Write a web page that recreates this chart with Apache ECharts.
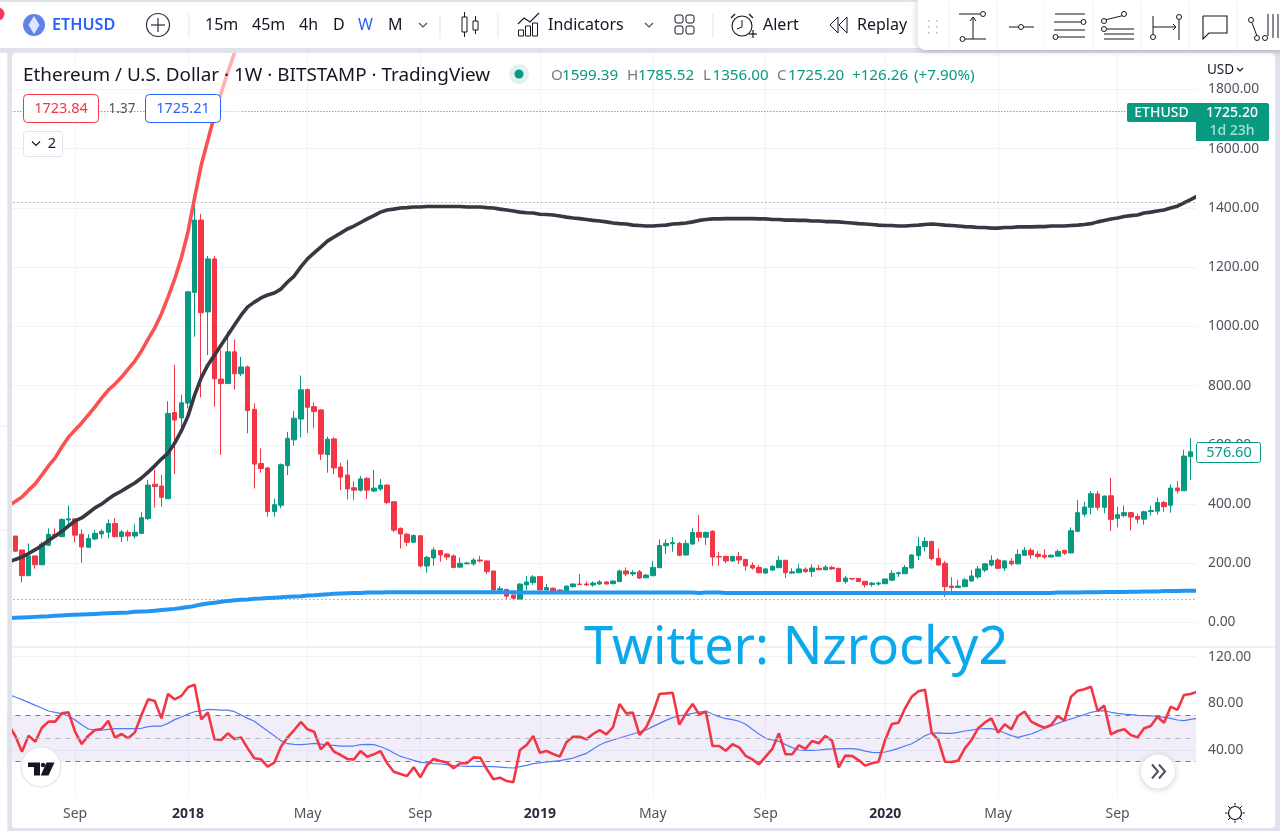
<!DOCTYPE html>
<html><head><meta charset="utf-8">
<style>html,body{margin:0;padding:0;background:#e0e3eb;overflow:hidden}#c{width:1280px;height:831px}</style>
<script src="https://cdn.jsdelivr.net/npm/echarts@6/dist/echarts.min.js"></script>
</head><body><div id="c"></div>
<script>
const priceTicks = {max:2000, min:-200, step:200};
const rsiTicks = {max:120, min:0, step:40};
// category index (bar + 1) -> time label
const timeTicks = {10:'Sep',27:'2018',45:'May',62:'Sep',80:'2019',97:'May',114:'Sep',132:'2020',149:'May',167:'Sep'};

const opens = [292,245,158,225,195,261,298,290,346,350,
298,254,282,299,305,334,290,304,292,301,
351,467,461,418,709,691,741,1115,1359,1049,
1228,822,807,914,840,863,720,537,522,375,
396,530,617,687,787,729,718,567,620,525,
498,455,447,487,444,451,464,408,318,298,
271,293,191,218,243,231,225,187,198,198,
211,208,174,110,112,93,79,127,135,155,
110,116,110,101,121,130,130,127,130,137,
131,138,174,164,171,151,158,185,259,266,
267,228,265,304,288,308,223,223,208,223,
213,193,186,167,177,185,210,167,168,180,
172,183,178,186,183,138,149,149,139,128,
130,131,143,165,165,184,226,256,274,217,
200,123,118,121,140,154,177,194,211,184,
207,198,227,244,231,227,221,224,244,235,
308,366,389,434,389,428,352,361,371,358,
349,375,376,405,396,454,445,560];
const closes = [241,158,225,195,265,298,290,348,350,295,
255,284,301,308,334,290,306,292,305,354,
464,459,423,706,684,742,1117,1359,1046,1228,
823,807,914,840,863,716,535,520,375,398,
533,622,690,786,727,713,569,619,522,491,
451,447,485,447,454,464,405,312,299,271,
294,191,220,245,228,221,186,200,201,211,
208,172,110,114,89,82,130,137,154,110,
118,106,103,123,130,128,127,133,137,130,
140,174,164,169,150,160,186,260,267,270,
227,267,304,288,304,221,221,208,223,211,
191,184,168,181,190,210,168,171,181,172,
184,178,187,181,138,150,147,138,127,133,
133,147,166,168,186,228,257,274,216,194,
121,118,123,144,157,181,198,210,183,208,
198,230,244,228,223,221,227,240,234,310,
371,390,435,389,427,348,364,371,356,349,
374,378,405,391,454,445,562,576.6];
const lows = [238,135,158,182,195,258,285,288,318,271,
202,252,278,284,284,287,272,275,284,300,
346,388,391,418,501,639,723,965,760,903,
729,566,807,787,832,639,453,506,357,357,
386,498,597,626,640,656,549,506,501,447,
416,414,442,417,441,445,399,305,250,258,
269,186,168,191,205,211,183,187,197,192,
203,164,96,98,79,78,79,110,127,108,
109,104,98,100,118,127,123,121,127,129,
129,137,157,157,147,150,158,184,231,239,
224,226,263,273,262,191,191,200,205,198,
175,179,166,164,175,184,150,164,168,168,
154,177,177,177,137,131,143,137,118,121,
124,130,140,154,165,183,211,240,209,193,
87,101,118,120,139,148,170,189,181,174,
192,197,225,216,216,215,221,223,228,233,
305,357,365,378,369,309,321,355,311,335,
330,362,364,374,371,436,445,481];
const highs = [292,245,267,225,273,318,318,352,395,350,
315,298,312,315,348,352,312,312,332,372,
481,515,498,747,870,769,1117,1421,1380,1238,
1238,920,982,956,897,868,740,588,526,418,
537,644,714,834,790,743,720,628,625,539,
549,476,495,490,515,485,467,408,321,303,
297,293,225,254,245,234,230,220,205,217,
225,210,174,123,112,93,132,157,160,157,
130,118,111,124,132,164,139,139,143,139,
141,179,186,177,177,164,208,281,281,288,
272,279,318,363,308,312,238,226,226,238,
215,203,194,183,193,225,212,183,198,186,
196,194,194,191,184,157,150,150,139,137,
138,148,177,172,194,231,289,288,276,250,
208,153,144,150,177,191,200,227,217,211,
217,247,255,251,241,248,230,247,245,321,
414,408,444,444,429,489,391,395,374,368,
378,395,422,411,467,477,583,622];

// red moving average, runs off the top of the pane after the listed weeks
const fastMA = [393,409,424,447,468,498,529,556,593,626,650,674,701,728,758,785,805,829,856,883,917,957,995,1042,1099,1160,1231,1319,1434,1545,1629,1714,1788,1859,1923,2001];
// black moving average, first and last entries sit just outside the bar range
const midMA = [204,213,221,233,246,260,277,292,307,326,343,353,370,387,400,417,432,444,458,471,488,508,529,552,572,606,647,697,768,826,870,903,937,971,1005,1038,1066,1082,1096,1106,1113,1126,1150,1170,1201,1228,1248,1268,1288,1302,1315,1329,1339,1351,1363,1374,1386,1393,1396,1400,1401,1403,1403,1405,1405,1405,1405,1405,1405,1403,1403,1403,1401,1400,1396,1393,1390,1386,1384,1383,1379,1378,1376,1373,1369,1366,1364,1361,1358,1356,1353,1349,1347,1346,1342,1341,1339,1339,1341,1342,1346,1347,1349,1353,1358,1361,1363,1363,1364,1364,1364,1364,1364,1363,1363,1361,1361,1359,1359,1358,1358,1356,1356,1354,1354,1353,1351,1349,1347,1346,1344,1342,1341,1341,1339,1339,1341,1342,1344,1346,1344,1342,1341,1339,1337,1336,1334,1334,1332,1332,1334,1334,1336,1336,1336,1337,1337,1339,1339,1339,1341,1342,1344,1347,1353,1358,1363,1366,1371,1374,1376,1383,1386,1390,1393,1400,1406,1417,1428,1440];
// blue moving average
const slowMA = [15,16,17,18,19,20,21,23,24,25,26,27,28,29,30,31,32,33,34,36,37,38,40,42,44,46,49,52,56,61,64,67,70,73,75,77,78,80,81,83,84,85,87,88,89,91,92,94,95,97,98,99,100,100,101,101,101,102,102,102,102,102,102,102,102,102,102,102,102,102,102,102,102,102,102,102,102,101,101,101,101,101,101,101,101,101,101,101,101,101,101,101,101,101,101,101,101,101,101,101,101,101,101,101,100,101,101,101,100,100,100,100,100,100,100,100,100,100,100,100,100,100,100,100,100,100,100,100,100,100,100,100,100,100,100,100,100,100,100,100,100,100,100,100,100,100,100,100,100,100,100,100,100,100,100,100,100,100,101,101,101,101,102,102,102,103,103,103,103,104,104,105,105,105,106,106,106,107,107,107];

const rsi = [61.4,52.0,38.6,52.3,47.1,59.1,64.3,64.3,71.4,72.3,55.7,45.1,52.3,57.1,58.0,65.1,50.6,53.7,50.0,55.1,70.0,83.4,82.0,67.1,88.0,83.4,86.3,93.7,96.0,66.3,72.3,49.2,48.6,54.3,49.4,50.8,41.4,32.9,32.0,25.7,29.1,42.8,50.8,57.1,64.0,57.7,55.7,40.6,46.6,38.6,35.7,32.3,32.0,39.1,34.3,36.3,39.1,28.6,21.4,19.4,17.7,25.2,16.6,27.0,32.3,30.6,29.2,24.3,28.6,28.6,33.7,33.4,23.7,14.9,16.3,13.4,12.3,40.0,44.3,52.0,37.7,39.1,36.6,34.3,46.6,51.4,51.4,49.1,53.7,57.1,53.4,59.4,79.4,71.4,72.0,52.9,59.4,71.4,88.0,88.5,89.1,61.7,71.4,79.4,70.5,72.8,43.4,43.4,39.4,44.9,42.3,34.9,32.0,27.7,34.3,40.9,54.3,36.3,36.3,44.0,40.9,47.7,45.7,52.0,48.0,25.1,35.2,34.9,31.4,26.6,28.6,30.0,48.6,62.3,63.4,75.7,85.7,90.3,91.7,54.8,48.6,30.0,29.7,30.9,41.4,48.6,58.6,63.4,67.1,54.8,62.0,57.7,69.1,72.8,64.3,61.4,59.1,61.4,69.1,65.1,85.7,90.8,92.0,94.2,73.4,78.0,53.4,56.3,57.7,52.9,50.8,58.6,60.6,68.5,63.4,77.1,74.3,87.1,88.0,90.0];
const rsiMA = [87.4,85.4,83.1,80.8,78.2,76.0,73.4,72.3,71.1,69.1,65.7,61.7,58.0,57.1,56.9,57.7,58.3,58.3,58.3,58.3,58.6,60.0,60.5,60.5,62.8,66.0,68.3,70.8,72.8,73.4,74.8,74.5,74.2,74.2,72.8,70.0,67.1,64.6,60.3,56.3,52.3,48.0,45.4,44.8,44.6,45.1,45.7,45.1,44.3,44.0,43.4,43.4,43.4,44.6,44.8,44.6,42.8,40.6,37.4,34.6,32.9,31.1,29.4,28.9,28.3,28.0,27.4,26.6,26.3,26.0,26.0,26.0,25.7,25.7,25.4,24.9,24.6,25.7,26.9,28.3,28.9,29.7,30.3,30.9,32.0,33.1,35.2,37.1,40.9,44.3,46.8,48.6,50.3,52.0,53.7,55.4,57.1,60.0,62.8,65.4,67.7,69.1,70.3,71.4,72.5,73.4,70.8,68.5,66.8,66.0,64.6,62.0,57.7,53.7,50.0,48.6,47.4,44.6,42.0,40.0,39.7,39.7,40.0,40.6,40.9,40.9,41.1,41.1,40.6,39.1,38.0,37.7,38.3,39.7,41.4,43.4,45.4,48.6,52.3,54.3,54.6,54.3,54.3,55.1,56.3,57.1,58.0,58.3,58.3,56.8,54.6,52.3,50.8,52.3,53.7,56.0,58.6,60.6,62.8,64.8,66.6,68.5,70.3,72.3,73.4,73.7,72.3,71.4,70.8,70.3,69.7,69.4,69.1,68.8,68.0,67.1,65.7,65.1,66.2,67.1];

const BARCOUNT = opens.length;
const categories = Array.from({length:BARCOUNT+2},(_,k)=>timeTicks[k]||('w'+k));
const candleData = ['-'].concat(opens.map((o,i)=>[o,closes[i],lows[i],highs[i]]),['-']);
const isTick = i => timeTicks[i]!==undefined;

const UP='#089981', DOWN='#f23645', GRID='#f0f3fa', TXT='#131722', AXT='#50535e';
const FONT='"Noto Sans",sans-serif';

const G=[]; const Z=100;
const T=(text,x,y,fill,size,weight,align)=>G.push({type:'text',x,y:y+1.2,z:Z+5,silent:true,style:{text,fill:fill||TXT,font:`${weight||'normal'} ${size||15}px ${FONT}`,textAlign:align||'left',textVerticalAlign:'middle'}});
const L=(x1,y1,x2,y2,c,w)=>G.push({type:'line',z:Z+2,silent:true,shape:{x1,y1,x2,y2},style:{stroke:c||TXT,lineWidth:w||1}});
const C=(cx,cy,r,fill,stroke,w)=>G.push({type:'circle',z:Z+2,silent:true,shape:{cx,cy,r},style:{fill:fill||'none',stroke:stroke||null,lineWidth:w||1}});
const R=(x,y,width,height,fill,stroke,r,z,extra)=>G.push({type:'rect',z:z===undefined?Z+1:z,silent:true,shape:{x,y,width,height,r:r||0},style:Object.assign({fill:fill||'none',stroke:stroke||null,lineWidth:1},extra||{})});
const PL=(points,c,w)=>G.push({type:'polyline',z:Z+2,silent:true,shape:{points},style:{stroke:c||TXT,lineWidth:w||1,fill:'none'}});
const PG=(points,fill)=>G.push({type:'polygon',z:Z+2,silent:true,shape:{points},style:{fill}});

// panes and page chrome
R(12,53,1263,775,'#ffffff',null,4,-5);
R(0,0,7.5,831,'#ffffff',null,0,Z-1);
R(7.5,0,4.5,831,'#e0e3eb',null,0,Z-1);
R(0,0,1280,53,'#e0e3eb',null,0,Z);
R(0,2,1280,46,'#ffffff',null,0,Z);
R(1196,53,5,744,'#ffffff',null,0,Z-1);
L(12,647,1275,647,'#e0e3eb',1);
L(0,426,7.5,426,'#e8eaf0',1);
L(0,530,7.5,530,'#e8eaf0',1);
R(208,53,33,69,'rgba(255,255,255,0.55)',null,0,Z-2);
C(-2,14,6.5,'#f7395a');

// top toolbar
C(34,25,11,'#6181ea');
PG([[34,16],[39.5,25],[34,34],[28.5,25]],'rgba(255,255,255,0.8)');
T('ETHUSD',52,24.5,'#2962ff',16.2,'600');
C(158,25,11.5,null,'#2a2e39',1.2);L(158,18,158,32,'#2a2e39',1.2);L(151,25,165,25,'#2a2e39',1.2);
[189,440,498,713].forEach(x=>L(x,14,x,38,'#e0e3eb',1));
T('15m',205,24.5,TXT,16);T('45m',252,24.5,TXT,16);T('4h',299,24.5,TXT,16);T('D',333,24.5,TXT,16);
T('W',358,24.5,'#2962ff',16);T('M',388,24.5,TXT,16);
PL([[419,23],[423,27],[427,23]],'#50535e',1.2);
L(464.5,12,464.5,37);R(462,17,5,15,'#fff',TXT,0,Z+2);L(475.5,16,475.5,34);R(473,21,5,9,'#fff',TXT,0,Z+2);
PL([[518,24],[524,18],[530,22],[539,13]],TXT,1.1);
R(518.5,30,5,6,'#fff',TXT,0,Z+2);R(525.5,26,5,10,'#fff',TXT,0,Z+2);R(532.5,23,5,13,'#fff',TXT,0,Z+2);
T('Indicators',548,24.5,TXT,16);
PL([[645,23],[649,27],[653,23]],'#50535e',1.2);
[[675,15],[686,15],[675,26],[686,26]].forEach(p=>R(p[0],p[1],8,8,'#fff',TXT,2,Z+2));
C(742,26,10,'#fff',TXT,1.1);PL([[742,20],[742,27],[737,29]],TXT,1);L(749,34,757,34,TXT,1.2);L(753,30,753,38,TXT,1.2);
PL([[731,18],[735,14]],TXT,1.2);PL([[749,14],[753,18]],TXT,1.2);
T('Alert',763,24.5,TXT,16);
PL([[838,17],[830,25],[838,33],[838,17]],TXT,1);PL([[847,17],[839,25],[847,33],[847,17]],TXT,1);
T('Replay',857,24.5,TXT,16);

// floating drawing toolbar
R(917.5,0,370,50,'#ffffff',null,[0,0,0,8],Z+1,{shadowBlur:6,shadowColor:'rgba(40,50,70,0.3)',shadowOffsetY:1});
[[928,20],[936,20],[928,26],[936,26],[928,32],[936,32]].forEach(p=>R(p[0],p[1],1.5,1.5,'#b2b5be',null,0,Z+2));
[949,997,1044,1093,1141,1189,1237].forEach(x=>L(x,2,x,50,'#f0f3fa',1));
L(959,14,980,14);C(983,14,2.5,'#fff',TXT);L(973,17,973,39);PL([[970,21],[973,17],[976,21]]);L(965,39,986,39);C(962.5,39,2.5,'#fff',TXT);
L(1009,27,1034,27);C(1021,27,2.5,'#fff',TXT);
L(1055,14,1085,14);L(1054,22,1081,22);C(1083.5,22,2.5,'#fff',TXT);L(1054,30,1085,30);L(1058,37,1085,37);C(1055.5,37,2.5,'#fff',TXT);
PL([[1105,20],[1125,15]]);C(1124,14,2.5,'#fff',TXT);C(1104,21,2.5,'#fff',TXT);C(1104,29,2.5,'#fff',TXT);L(1107,29,1134,29);L(1104,34,1134,34);L(1104,39,1134,39);
L(1153,16,1153,34);C(1153,37,2.5,'#fff',TXT);L(1153,27,1176,27);PL([[1173,24],[1176,27],[1173,30]]);L(1179,20,1179,40);C(1179,17,2.5,'#fff',TXT);
PL([[1203,16],[1227,16],[1227,33],[1209,33],[1203,39],[1203,16]],TXT,1.1);
C(1251,20,2.5,'#fff',TXT);PL([[1252,23],[1257,36]]);C(1257,38,2.5,'#fff',TXT);C(1265,38,2.5,'#fff',TXT);L(1268,36,1268,14);L(1273,38,1273,14);L(1278,38,1278,14);

// pane header
T('Ethereum / U.S. Dollar · 1W · BITSTAMP · TradingView',23,74,TXT,18.9);
C(519,74,10,'rgba(8,153,129,0.13)');C(519,74,4.5,UP);
[['O',551,'#787b86'],['1599.39',562,UP],['H',627,'#787b86'],['1785.52',638,UP],['L',703,'#787b86'],['1356.00',712.5,UP],['C',777,'#787b86'],['1725.20',788,UP],['+126.26',852,UP],['(+7.90%)',914,UP]]
  .forEach(a=>T(a[0],a[1],74,a[2],15.2));
R(23.5,94.5,75,28,'#fff',DOWN,4,Z+1);T('1723.84',61,108,DOWN,14.5,'normal','center');
T('1.37',122,108,'#50535e',13.5,'normal','center');
R(145.5,94.5,75,28,'#fff','#2962ff',4,Z+1);T('1725.21',183,108,'#2962ff',14.5,'normal','center');
R(23.5,131.5,39,25,'#fff','#e0e3eb',3,Z+1);PL([[32,141.5],[36,145.5],[40,141.5]],TXT,1.2);T('2',52,143,TXT,14.5,'normal','center');

// price scale tags
T('USD',1207,69,TXT,13.5);PL([[1237,68],[1240,71],[1243,68]],TXT,1.2);
R(1127,103,69,19,UP,null,[2,0,0,2]);T('ETHUSD',1161.5,112,'#fff',14,'500','center');
R(1196,103,73,38,UP,null,[0,2,2,0]);T('1725.20',1232,112,'#fff',14,'500','center');T('1d 23h',1232,130,'#a8e0d4',14,'500','center');
R(1196.5,442.5,64,20,'#fff',UP,2);T('576.60',1229,451.5,UP,14.5,'normal','center');

// watermark
T('Twitter: Nzrocky2',584,647.5,'#0aa9ee',52.2);

// logo, scroll button, settings
C(41,767,20,'#fff','#e0e3eb',1.2);
PG([[28,762.5],[40,762.5],[40,775.5],[34,775.5],[34,767],[28,767]],'#131722');
C(43,765,2.2,'#131722');
PG([[46.5,762.5],[54.5,762.5],[48.5,775.5],[40.7,775.5]],'#131722');
G.push({type:'circle',z:Z+2,silent:true,shape:{cx:1158,cy:771.5,r:17},style:{fill:'#fff',shadowBlur:6,shadowColor:'rgba(40,50,70,0.25)',shadowOffsetY:1}});
PL([[1152,764.5],[1158,771.5],[1152,778.5]],'#50535e',2);PL([[1159,764.5],[1165,771.5],[1159,778.5]],'#50535e',2);
C(1235,813,6.5,'#fff',TXT,1.2);
[[1235,803,1235,805.5],[1235,820.5,1235,823],[1225,813,1227.5,813],[1242.5,813,1245,813],[1228,806,1230,808],[1240,818,1242,820],[1228,820,1230,818],[1240,808,1242,806]].forEach(a=>L(a[0],a[1],a[2],a[3],TXT,1));

const hiddenX = {type:'category',data:categories,gridIndex:0,axisLine:{show:false},axisTick:{show:false},axisLabel:{show:false},
  splitLine:{show:true,interval:isTick,alignWithLabel:true,lineStyle:{color:GRID,width:1}}};
const priceLabel = {color:AXT,fontSize:13.8,margin:7.5,align:'left',padding:[3,0,0,0],formatter:v=>v.toFixed(2)};

const option = {
  animation:false, backgroundColor:'#e0e3eb', tooltip:{show:false}, legend:{show:false},
  textStyle:{fontFamily:FONT},
  grid:[{left:5.36,width:1195.2,top:30.3,height:651.42},{left:5.36,width:1195.2,top:656.6,height:140.1}],
  xAxis:[hiddenX,Object.assign({},hiddenX,{gridIndex:1,axisLabel:{show:true,interval:isTick,color:AXT,fontSize:14,margin:10,
      formatter:v=>/^20/.test(v)?`{b|${v}}`:v,rich:{b:{fontWeight:'bold',fontSize:14,color:'#2a2e39'}}}})],
  yAxis:[
    {type:'value',gridIndex:0,position:'right',min:priceTicks.min,max:priceTicks.max,interval:priceTicks.step,axisLine:{show:false},axisTick:{show:false},
     splitLine:{show:true,showMinLine:false,showMaxLine:false,lineStyle:{color:GRID}},
     axisLabel:Object.assign({showMinLabel:false,showMaxLabel:false},priceLabel)},
    {type:'value',gridIndex:1,position:'right',min:rsiTicks.min,max:rsiTicks.max,interval:rsiTicks.step,axisLine:{show:false},axisTick:{show:false},
     splitLine:{show:true,showMinLine:false,lineStyle:{color:GRID}},
     axisLabel:Object.assign({showMinLabel:false},priceLabel)}
  ],
  series:[
    {type:'candlestick',name:'ETHUSD',xAxisIndex:0,yAxisIndex:0,data:candleData,barWidth:5,
     itemStyle:{color:UP,color0:DOWN,borderColor:UP,borderColor0:DOWN,borderWidth:1},
     markLine:{silent:true,symbol:'none',label:{show:false},animation:false,data:[
       {yAxis:1725.2,lineStyle:{color:UP,type:[1,2],width:1}},
       {yAxis:1418,lineStyle:{color:'#787b86',type:[1,3],width:1}},
       {yAxis:78,lineStyle:{color:'#787b86',type:[1,3],width:1}}]}},
    {type:'line',name:'MA fast',xAxisIndex:0,yAxisIndex:0,data:fastMA,showSymbol:false,smooth:false,lineStyle:{color:'#fa5252',width:3.6}},
    {type:'line',name:'MA mid',xAxisIndex:0,yAxisIndex:0,data:midMA,showSymbol:false,smooth:false,lineStyle:{color:'#363842',width:3.6}},
    {type:'line',name:'MA slow',xAxisIndex:0,yAxisIndex:0,data:slowMA,showSymbol:false,smooth:false,lineStyle:{color:'#2196f3',width:4}},
    {type:'line',name:'RSI MA',xAxisIndex:1,yAxisIndex:1,data:rsiMA,showSymbol:false,lineStyle:{color:'#4f7df5',width:1.2},z:3,
     markArea:{silent:true,itemStyle:{color:'rgba(126,87,194,0.1)'},data:[[{yAxis:30},{yAxis:70}]]},
     markLine:{silent:true,symbol:'none',label:{show:false},animation:false,data:[
       {yAxis:70,lineStyle:{color:'#787b86',type:[5,5],width:1}},
       {yAxis:50,lineStyle:{color:'#b2b5be',type:[5,5],width:1}},
       {yAxis:30,lineStyle:{color:'#787b86',type:[5,5],width:1}}]}},
    {type:'line',name:'RSI',xAxisIndex:1,yAxisIndex:1,data:rsi,showSymbol:false,lineStyle:{color:'#f23645',width:2.6},z:4}
  ],
  graphic:{elements:G}
};
const chart = echarts.init(document.getElementById('c'),null,{renderer:'canvas',width:1280,height:831});
chart.setOption(option);
</script></body></html>
